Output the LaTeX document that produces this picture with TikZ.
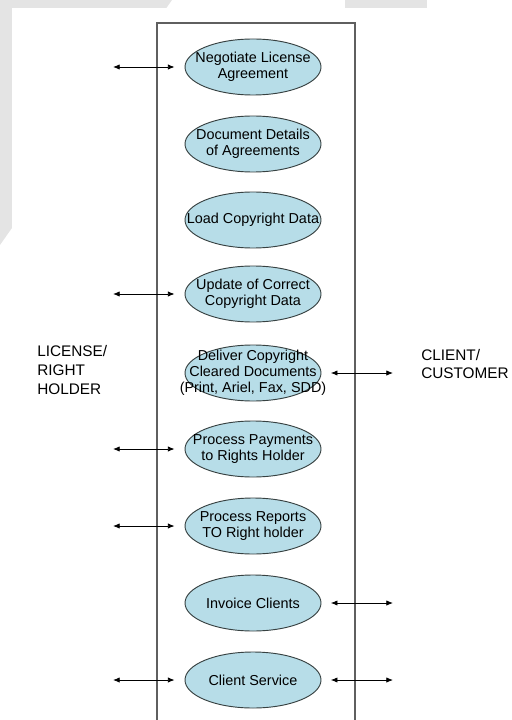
\documentclass[tikz,border=0pt]{standalone}
\usepackage{fontspec}
\setmainfont{Liberation Sans}
\usetikzlibrary{shapes.geometric,arrows.meta}
\definecolor{ucblue}{RGB}{183,221,232}
\definecolor{ucline}{RGB}{55,65,65}
\definecolor{sysline}{RGB}{95,95,95}
\definecolor{pagegrey}{RGB}{228,228,228}
\tikzstyle{usecase} = [ellipse, draw=ucline, fill=ucblue, line width=.7pt, minimum width=102pt, minimum height=42pt, inner sep=0pt]
\tikzstyle{uctext} = [align=center, inner sep=0pt, font=\fontsize{10.8}{12}\selectfont]
\tikzstyle{actor} = [align=left, anchor=west, inner sep=0pt, font=\fontsize{11.5}{14}\selectfont]
\tikzstyle{link} = [{Latex[length=5pt,width=4pt]}-{Latex[length=5pt,width=4pt]}, line width=.6pt]
\newcommand{\uc}[3]{\node [usecase] (#1) at (253,#2) {}; \node [uctext] (#1-txt) at (#1) {#3};}

\begin{document}
\begin{tikzpicture}[x=.75pt, y=-.75pt]
	\useasboundingbox (0,0) rectangle (511,720);
	% faint page shadow
	\fill[pagegrey] (0,0) -- (172,0) -- (0,245) -- cycle;
	\fill[pagegrey] (345,0) rectangle (427,8);
	\fill[white] (12,8) rectangle (511,720);
	% system boundary
	\draw[sysline, line width=1pt] (157,720) |- (355,23) -- (355,720);
	% use cases
	\uc{uc1}{67}{Negotiate License\\Agreement}
	\uc{uc2}{144}{Document Details\\of Agreements}
	\uc{uc3}{220}{Load Copyright Data}
	\uc{uc4}{294}{Update of Correct\\Copyright Data}
	\uc{uc5}{373}{Deliver Copyright\\Cleared Documents\\(Print, Ariel, Fax, SDD)}
	\uc{uc6}{449}{Process Payments\\to Rights Holder}
	\uc{uc7}{526}{Process Reports\\TO Right holder}
	\uc{uc8}{603}{Invoice Clients}
	\uc{uc9}{680}{Client Service}
	% actors
	\node [actor] (holder) at (37,370) {LICENSE/\\RIGHT\\HOLDER};
	\node [actor] (client) at (421,364) {CLIENT/\\CUSTOMER};
	% links
	\coordinate (lx) at (113,0);
	\coordinate (rx) at (393,0);
	\foreach \n in {uc1,uc4,uc6,uc7,uc9}
		\draw[link] (\n.west -| lx) -- ([xshift=-7.5pt]\n.west);
	\foreach \n in {uc5,uc8,uc9}
		\draw[link] ([xshift=7pt]\n.east) -- (\n.east -| rx);
\end{tikzpicture}
\end{document}
